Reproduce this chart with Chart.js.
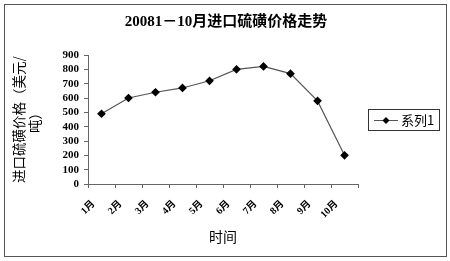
<!DOCTYPE html>
<html>
<head>
<meta charset="utf-8">
<script src="https://cdn.jsdelivr.net/npm/chart.js@4"></script>
<style>
  html, body { margin: 0; padding: 0; background: #fff; }
</style>
</head>
<body>
<canvas id="chart" width="450" height="261"></canvas>
<script>
const months = ['1月', '2月', '3月', '4月', '5月', '6月', '7月', '8月', '9月', '10月'];
const prices = [490, 600, 640, 670, 720, 800, 820, 770, 580, 200];
const seriesName = '系列1';
const chartTitle = '20081－10月进口硫磺价格走势';
const yTitle = ['进口硫磺价格（美元/', '吨）'];
const xTitle = '时间';

const cjk = '"Liberation Serif", "Noto Sans CJK SC", serif';

// outer frame + legend box, Excel style
const framePlugin = {
  id: 'frame',
  afterDraw(chart) {
    const ctx = chart.ctx;
    ctx.save();
    ctx.strokeStyle = '#555';
    ctx.lineWidth = 1;
    ctx.strokeRect(4.5, 4.5, 442, 252);

    // legend
    const ds = chart.data.datasets[0];
    ctx.strokeStyle = '#333';
    ctx.strokeRect(368.5, 109.5, 71, 21);
    ctx.strokeStyle = ds.borderColor;
    ctx.beginPath();
    ctx.moveTo(374, 120.5);
    ctx.lineTo(398, 120.5);
    ctx.stroke();
    ctx.fillStyle = '#000';
    ctx.beginPath();
    ctx.moveTo(386, 117);
    ctx.lineTo(389.5, 120.5);
    ctx.lineTo(386, 124);
    ctx.lineTo(382.5, 120.5);
    ctx.closePath();
    ctx.fill();
    ctx.font = '13px "Noto Sans CJK SC", sans-serif';
    ctx.textBaseline = 'middle';
    ctx.fillText(ds.label, 401, 120);
    ctx.restore();
  }
};

new Chart(document.getElementById('chart'), {
  type: 'line',
  data: {
    labels: months,
    datasets: [{
      label: seriesName,
      data: prices,
      borderColor: '#555',
      borderWidth: 1.2,
      pointStyle: 'rectRot',
      pointRadius: 3.5,
      pointBackgroundColor: '#000',
      pointBorderColor: '#000',
      tension: 0
    }]
  },
  options: {
    responsive: false,
    devicePixelRatio: 1,
    animation: false,
    layout: { padding: { left: 6, right: 4, top: 0, bottom: 16 } },
    plugins: {
      legend: { display: false },
      tooltip: { enabled: false },
      title: {
        display: true,
        text: chartTitle,
        color: '#000',
        font: { family: cjk, size: 15, weight: 'bold', lineHeight: 1.2 },
        padding: { top: 13, bottom: 24 }
      }
    },
    scales: {
      x: {
        offset: true,
        afterFit(scale) { scale.height = 61; },
        grid: {
          offset: true,
          drawOnChartArea: false,
          drawTicks: true,
          tickLength: 4,
          color: '#666'
        },
        border: { color: '#666', width: 1 },
        ticks: {
          color: '#000',
          minRotation: 45,
          maxRotation: 45,
          padding: 10,
          labelOffset: -8,
          font: { family: cjk, size: 10, weight: 'bold' }
        },
        title: {
          display: true,
          text: xTitle,
          color: '#000',
          font: { family: '"Noto Sans CJK SC", sans-serif', size: 14 },
          padding: { top: 0, bottom: 0 }
        }
      },
      y: {
        min: 0,
        max: 900,
        afterFit(scale) { scale.width = 82; },
        grid: {
          drawOnChartArea: false,
          drawTicks: true,
          tickLength: 4,
          color: '#666'
        },
        border: { color: '#666', width: 1 },
        ticks: {
          stepSize: 100,
          autoSkip: false,
          color: '#000',
          padding: 5,
          font: { family: cjk, size: 11, weight: 'bold' }
        },
        title: {
          display: true,
          text: yTitle,
          color: '#000',
          font: { family: '"Noto Sans CJK SC", sans-serif', size: 13.5, lineHeight: 1.25 },
          padding: { top: 4, bottom: 0 }
        }
      },
      // empty axis that only reserves the room where the legend sits
      legendRoom: {
        type: 'linear',
        position: 'right',
        afterFit(scale) { scale.width = 88; },
        grid: { display: false },
        border: { display: false },
        ticks: { display: false }
      }
    }
  },
  plugins: [framePlugin]
});
</script>
</body>
</html>
